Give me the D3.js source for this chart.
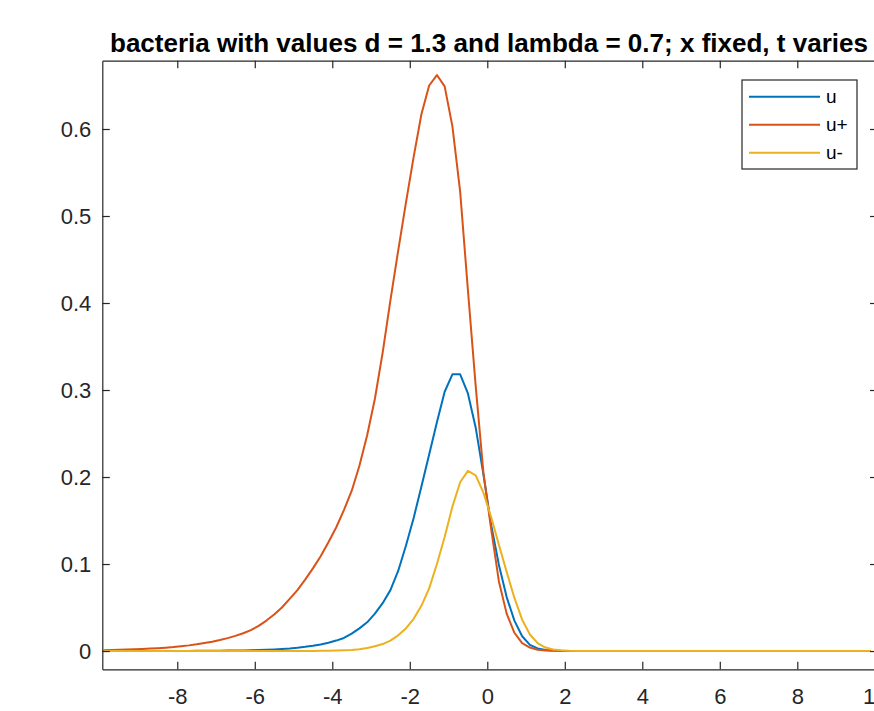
<!DOCTYPE html>
<meta charset="utf-8">
<style>

body {
  margin: 0;
  background: #fff;
}

text {
  font-family: "Liberation Sans", Arial, Helvetica, sans-serif;
  fill: #262626;
}

.axis path,
.axis line {
  stroke: #262626;
  stroke-width: 1.2px;
}

.axis text {
  font-size: 22px;
  fill: #262626;
}

.title {
  font-size: 25px;
  font-weight: bold;
  fill: #000;
}

.curve {
  fill: none;
  stroke-width: 2px;
  stroke-linejoin: round;
}

.legend text {
  font-size: 19px;
  fill: #000;
}

</style>
<body>
<script src="https://cdnjs.cloudflare.com/ajax/libs/d3/7.8.5/d3.min.js"></script>
<script>

var titleText = "bacteria with values d = 1.3 and lambda = 0.7; x fixed, t varies";

// sample positions along the axis
var xs = [
  -9.9, -9.7, -9.5, -9.3, -9.1, -8.9, -8.7, -8.5, -8.3, -8.1,
  -7.9, -7.7, -7.5, -7.3, -7.1, -6.9, -6.7, -6.5, -6.3, -6.1,
  -5.9, -5.7, -5.5, -5.3, -5.1, -4.9, -4.7, -4.5, -4.3, -4.1,
  -3.9, -3.7, -3.5, -3.3, -3.1, -2.9, -2.7, -2.5, -2.3, -2.1,
  -1.9, -1.7, -1.5, -1.3, -1.1, -0.9, -0.7, -0.5, -0.3, -0.1,
  0.1, 0.3, 0.5, 0.7, 0.9, 1.1, 1.3, 1.5, 1.7, 1.9,
  2.1, 2.3, 2.5, 2.7, 2.9, 3.1, 3.3, 3.5, 3.7, 3.9,
  4.1, 4.3, 4.5, 4.7, 4.9, 5.1, 5.3, 5.5, 5.7, 5.9,
  6.1, 6.3, 6.5, 6.7, 6.9, 7.1, 7.3, 7.5, 7.7, 7.9,
  8.1, 8.3, 8.5, 8.7, 8.9, 9.1, 9.3, 9.5, 9.7, 9.9
];

// u
var u = [
  0, 0, 0, 0, 0, 0, 0, 0, 0, 0,
  0.0001, 0.0001, 0.0002, 0.0002, 0.0003, 0.0004, 0.0005, 0.0006, 0.0007, 0.0009,
  0.0012, 0.0015, 0.0019, 0.0024, 0.0030, 0.0038, 0.0048, 0.0060, 0.0076, 0.0096,
  0.012, 0.015, 0.020, 0.026, 0.033, 0.043, 0.055, 0.070, 0.092, 0.121,
  0.153, 0.189, 0.226, 0.263, 0.298, 0.318, 0.318, 0.296, 0.257, 0.203,
  0.145, 0.099, 0.062, 0.035, 0.017, 0.007, 0.003, 0.0012, 0.0005, 0.0002,
  0.0001, 0, 0, 0, 0, 0, 0, 0, 0, 0,
  0, 0, 0, 0, 0, 0, 0, 0, 0, 0,
  0, 0, 0, 0, 0, 0, 0, 0, 0, 0,
  0, 0, 0, 0, 0, 0, 0, 0, 0, 0
];

// u+
var uPlus = [
  0.0010, 0.0012, 0.0014, 0.0017, 0.0020, 0.0024, 0.0028, 0.0033, 0.0039, 0.0046,
  0.0055, 0.0065, 0.0077, 0.0091, 0.0107, 0.0126, 0.0148, 0.0174, 0.0204, 0.0240,
  0.029, 0.035, 0.042, 0.050, 0.060, 0.070, 0.082, 0.095, 0.109, 0.125,
  0.142, 0.162, 0.184, 0.213, 0.248, 0.290, 0.343, 0.403, 0.460, 0.515,
  0.568, 0.617, 0.650, 0.662, 0.649, 0.603, 0.528, 0.415, 0.305, 0.205,
  0.140, 0.080, 0.043, 0.021, 0.009, 0.004, 0.0015, 0.0005, 0.0002, 0.0001,
  0, 0, 0, 0, 0, 0, 0, 0, 0, 0,
  0, 0, 0, 0, 0, 0, 0, 0, 0, 0,
  0, 0, 0, 0, 0, 0, 0, 0, 0, 0,
  0, 0, 0, 0, 0, 0, 0, 0, 0, 0
];

// u-
var uMinus = [
  0, 0, 0, 0, 0, 0, 0, 0, 0, 0,
  0, 0, 0, 0, 0, 0, 0, 0, 0, 0,
  0, 0, 0, 0, 0, 0, 0.0001, 0.0001, 0.0002, 0.0003,
  0.0005, 0.0008, 0.0012, 0.0020, 0.0035, 0.0055, 0.008, 0.012, 0.018, 0.026,
  0.037, 0.052, 0.072, 0.100, 0.131, 0.166, 0.194, 0.207, 0.202, 0.182,
  0.154, 0.122, 0.091, 0.061, 0.036, 0.019, 0.009, 0.004, 0.0018, 0.0008,
  0.0003, 0.0001, 0, 0, 0, 0, 0, 0, 0, 0,
  0, 0, 0, 0, 0, 0, 0, 0, 0, 0,
  0, 0, 0, 0, 0, 0, 0, 0, 0, 0,
  0, 0, 0, 0, 0, 0, 0, 0, 0, 0
];

var seriesNames = ["u", "u+", "u-"];
var seriesColors = ["#0072BD", "#D95319", "#EDB120"];

var xTicks = [-8, -6, -4, -2, 0, 2, 4, 6, 8, 10];
var yTicks = [0, 0.1, 0.2, 0.3, 0.4, 0.5, 0.6];
var yTickLabels = ["0", "0.1", "0.2", "0.3", "0.4", "0.5", "0.6"];

var width = 874,
    height = 711;

// plot box edges (the right edge falls just off the picture)
var boxLeft = 102.3, boxRight = 877.5, boxTop = 60.7, boxBottom = 669.3;

var x = d3.scaleLinear()
    .domain([-9.935, 10.07])
    .range([boxLeft, boxRight]);

var y = d3.scaleLinear()
    .domain([-0.021, 0.6785])
    .range([boxBottom, boxTop]);

var svg = d3.select("body").append("svg")
    .attr("width", width)
    .attr("height", height);

svg.append("rect")
    .attr("width", width)
    .attr("height", height)
    .attr("fill", "#fff");

svg.append("clipPath")
    .attr("id", "plot-clip")
  .append("rect")
    .attr("x", boxLeft)
    .attr("y", boxTop)
    .attr("width", boxRight - boxLeft)
    .attr("height", boxBottom - boxTop);

// curves
var series = [u, uPlus, uMinus];

var line = d3.line()
    .x(function(d, i) { return x(xs[i]); })
    .y(function(d) { return y(d); });

svg.append("g")
    .attr("clip-path", "url(#plot-clip)")
  .selectAll("path")
    .data(series)
  .enter().append("path")
    .attr("class", "curve")
    .attr("stroke", function(d, i) { return seriesColors[i]; })
    .attr("d", line);

// axes, ticks inward like matlab
svg.append("g")
    .attr("class", "axis")
    .attr("transform", "translate(0," + boxBottom + ")")
    .call(d3.axisBottom(x)
        .tickValues(xTicks)
        .tickSizeInner(-7.5)
        .tickSizeOuter(0)
        .tickPadding(19)
        .tickFormat(function(d) { return String(d); }));

svg.append("g")
    .attr("class", "axis")
    .attr("transform", "translate(0," + boxTop + ")")
    .call(d3.axisTop(x)
        .tickValues(xTicks)
        .tickSizeInner(-7.5)
        .tickSizeOuter(0)
        .tickFormat(""));

svg.append("g")
    .attr("class", "axis")
    .attr("transform", "translate(" + boxLeft + ",0)")
    .call(d3.axisLeft(y)
        .tickValues(yTicks)
        .tickSizeInner(-7.5)
        .tickSizeOuter(0)
        .tickPadding(11)
        .tickFormat(function(d, i) { return yTickLabels[i]; }));

svg.append("g")
    .attr("class", "axis")
    .attr("transform", "translate(" + boxRight + ",0)")
    .call(d3.axisRight(y)
        .tickValues(yTicks)
        .tickSizeInner(-7.5)
        .tickSizeOuter(0)
        .tickFormat(""));

// title
svg.append("text")
    .attr("class", "title")
    .attr("x", 489)
    .attr("y", 52)
    .attr("text-anchor", "middle")
    .attr("textLength", 758)
    .attr("lengthAdjust", "spacingAndGlyphs")
    .text(titleText);

// legend
var legend = svg.append("g")
    .attr("class", "legend")
    .attr("transform", "translate(742,80)");

legend.append("rect")
    .attr("width", 115)
    .attr("height", 89)
    .attr("fill", "#fff")
    .attr("stroke", "#262626")
    .attr("stroke-width", 1.2);

var item = legend.selectAll(".item")
    .data(seriesNames)
  .enter().append("g")
    .attr("class", "item")
    .attr("transform", function(d, i) { return "translate(0," + (16.7 + i * 28) + ")"; });

item.append("line")
    .attr("x1", 7)
    .attr("x2", 78)
    .attr("stroke", function(d, i) { return seriesColors[i]; })
    .attr("stroke-width", 2);

item.append("text")
    .attr("x", 84)
    .attr("dy", "0.35em")
    .text(function(d) { return d; });

</script>
